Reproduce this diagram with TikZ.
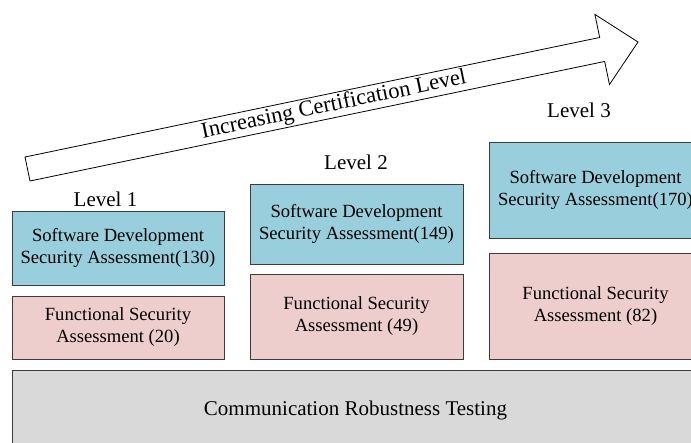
\documentclass[tikz,border=0pt]{standalone}
\usepackage{fontspec}
\setmainfont{Liberation Serif}
\definecolor{sdblue}{RGB}{153,207,221}
\definecolor{fspink}{RGB}{238,206,205}
\definecolor{crtgray}{RGB}{217,217,217}
\definecolor{edge}{RGB}{60,60,60}
\tikzset{
  levelbox/.style={draw=edge,line width=0.8pt,inner sep=0pt,align=center,
    minimum width=212,font=\fontsize{18.6}{22}\selectfont},
  sdbox/.style={levelbox,fill=sdblue},
  fsbox/.style={levelbox,fill=fspink},
  crtbox/.style={draw=edge,line width=0.8pt,fill=crtgray,inner sep=0pt,
    minimum width=687,minimum height=80,font=\fontsize{21}{25}\selectfont},
  lvl/.style={inner sep=0pt,font=\fontsize{21}{25}\selectfont}
}
\begin{document}
\begin{tikzpicture}[x=1pt,y=-1pt]
    \useasboundingbox (0,0) rectangle (691,443);
    \clip (0,0) rectangle (691,443);
    % certification arrow
    \begin{scope}[shift={(27.5,169)},rotate=11.75]
        \draw[line width=0.8pt,fill=white] (0,-12.25) -- (587,-12.25) -- (587,-35.8)
            -- (623.6,0) -- (587,35.8) -- (587,12.25) -- (0,12.25) -- cycle;
        \node[rotate=11.75,font=\fontsize{22.5}{26}\selectfont] (inc) at (313,0)
            {Increasing Certification Level};
    \end{scope}
    % level 1
    \node[lvl] (l1) at (105.5,199) {Level 1};
    \node[sdbox,minimum height=74] (sd1) at (118,248) {Software Development\\Security Assessment(130)};
    \node[fsbox,minimum height=63] (fs1) at (118,327.5) {Functional Security\\Assessment (20)};
    % level 2
    \node[lvl] (l2) at (356,162) {Level 2};
    \node[sdbox,minimum height=80,minimum width=213] (sd2) at (356.5,224) {Software Development\\Security Assessment(149)};
    \node[fsbox,minimum height=85,minimum width=213] (fs2) at (356.5,316.5) {Functional Security\\Assessment (49)};
    % level 3
    \node[lvl] (l3) at (579,110) {Level 3};
    \node[sdbox,minimum height=96,minimum width=213] (sd3) at (595.5,190) {Software Development\\Security Assessment(170)};
    \node[fsbox,minimum height=106,minimum width=213] (fs3) at (595.5,306) {Functional Security\\Assessment (82)};
    % base
    \node[crtbox] (crt) at (355.5,410) {Communication Robustness Testing};
\end{tikzpicture}
\end{document}
